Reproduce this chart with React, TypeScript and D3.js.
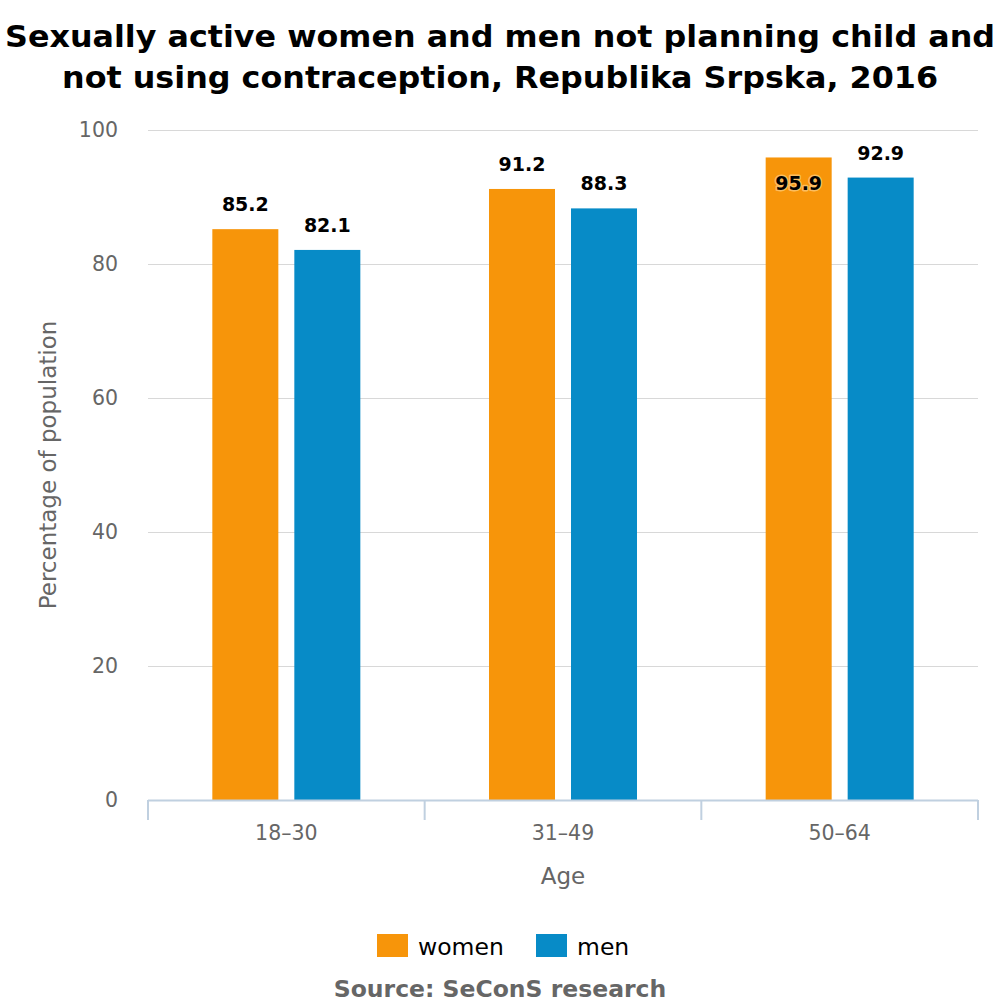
import { useEffect, useRef } from "react";
import * as d3 from "d3";

const ageGroups = ["18–30", "31–49", "50–64"];
const seriesNames = ["women", "men"];
const women = [85.2, 91.2, 95.9];
const men = [82.1, 88.3, 92.9];
const yTicks = [0, 20, 40, 60, 80, 100];
const colors = ["#f7950a", "#078bc7"];
const titleLines = [
  "Sexually active women and men not planning child and",
  "not using contraception, Republika Srpska, 2016",
];

const W = 1000,
  H = 1000,
  margin = { top: 130, right: 22, bottom: 200, left: 148 };

const font = "'DejaVu Sans', Verdana, sans-serif";

export default function App() {
  const ref = useRef<SVGSVGElement>(null);

  useEffect(() => {
    const svg = d3.select(ref.current);
    svg.selectAll("*").remove();

    const x0 = d3
      .scaleBand()
      .domain(ageGroups)
      .range([margin.left, W - margin.right]);
    const x1 = d3
      .scaleBand()
      .domain(seriesNames)
      .range([0, 148])
      .paddingInner(0.195);
    const y = d3
      .scaleLinear()
      .domain([0, 100])
      .range([H - margin.bottom, margin.top]);

    // title
    const titleWidths = [990, 876];
    svg
      .append("g")
      .selectAll("text")
      .data(titleLines)
      .enter()
      .append("text")
      .attr("x", W / 2)
      .attr("y", (_, i) => 47 + i * 41)
      .attr("text-anchor", "middle")
      .attr("font-family", font)
      .attr("font-weight", "bold")
      .attr("font-size", 31)
      .attr("textLength", (_, i) => titleWidths[i])
      .attr("lengthAdjust", "spacingAndGlyphs")
      .attr("fill", "#000")
      .text((d) => d);

    // grid
    svg
      .append("g")
      .selectAll("line")
      .data(yTicks.filter((d) => d > 0))
      .enter()
      .append("line")
      .attr("x1", margin.left)
      .attr("x2", W - margin.right)
      .attr("y1", (d) => y(d) + 0.5)
      .attr("y2", (d) => y(d) + 0.5)
      .attr("stroke", "#d8d8d8")
      .attr("stroke-width", 1);

    svg
      .append("g")
      .selectAll("text")
      .data(yTicks)
      .enter()
      .append("text")
      .attr("x", 118)
      .attr("y", (d) => y(d) + 7)
      .attr("text-anchor", "end")
      .attr("font-family", font)
      .attr("font-size", 20.5)
      .attr("fill", "#666")
      .text((d) => d);

    svg
      .append("text")
      .attr("transform", `translate(56,${(y(0) + y(100)) / 2}) rotate(-90)`)
      .attr("text-anchor", "middle")
      .attr("font-family", font)
      .attr("font-size", 23)
      .attr("fill", "#666")
      .text("Percentage of population");

    // bars
    const groups = svg
      .append("g")
      .selectAll("g")
      .data(ageGroups)
      .enter()
      .append("g")
      .attr("transform", (d) => `translate(${x0(d)! + (x0.bandwidth() - 148) / 2},0)`);

    const rows = (i: number) =>
      seriesNames.map((s, j) => ({ s, j, v: j === 0 ? women[i] : men[i] }));

    groups.each(function (_, i) {
      const g = d3.select(this);
      const data = rows(i);
      g.selectAll("rect")
        .data(data)
        .enter()
        .append("rect")
        .attr("x", (d) => x1(d.s)!)
        .attr("width", x1.bandwidth())
        .attr("y", (d) => y(d.v))
        .attr("height", (d) => y(0) - y(d.v))
        .attr("fill", (d) => colors[d.j]);

      const inside = (v: number) => y(v) - 40 < margin.top;
      g.selectAll("text")
        .data(data)
        .enter()
        .append("text")
        .attr("x", (d) => x1(d.s)! + x1.bandwidth() / 2)
        .attr("y", (d) => (inside(d.v) ? y(d.v) + 33 : y(d.v) - 18))
        .attr("text-anchor", "middle")
        .attr("font-family", font)
        .attr("font-weight", "bold")
        .attr("font-size", 19)
        .attr("fill", "#000")
        .attr("stroke", (d) => (inside(d.v) ? "rgba(255,225,170,0.55)" : "rgba(255,255,255,0.8)"))
        .attr("stroke-width", 3)
        .attr("paint-order", "stroke")
        .attr("stroke-linejoin", "round")
        .text((d) => d.v.toFixed(1));
    });

    // x axis
    const axisY = y(0);
    svg
      .append("line")
      .attr("x1", margin.left)
      .attr("x2", W - margin.right)
      .attr("y1", axisY + 0.5)
      .attr("y2", axisY + 0.5)
      .attr("stroke", "#c0d0e0")
      .attr("stroke-width", 2);

    const edges = [...ageGroups.map((d) => x0(d)!), W - margin.right];
    svg
      .append("g")
      .selectAll("line")
      .data(edges)
      .enter()
      .append("line")
      .attr("x1", (d) => d)
      .attr("x2", (d) => d)
      .attr("y1", axisY)
      .attr("y2", axisY + 20)
      .attr("stroke", "#c0d0e0")
      .attr("stroke-width", 2);

    svg
      .append("g")
      .selectAll("text")
      .data(ageGroups)
      .enter()
      .append("text")
      .attr("x", (d) => x0(d)! + x0.bandwidth() / 2)
      .attr("y", axisY + 40)
      .attr("text-anchor", "middle")
      .attr("font-family", font)
      .attr("font-size", 20.5)
      .attr("fill", "#666")
      .text((d) => d);

    svg
      .append("text")
      .attr("x", (margin.left + W - margin.right) / 2)
      .attr("y", axisY + 84)
      .attr("text-anchor", "middle")
      .attr("font-family", font)
      .attr("font-size", 23)
      .attr("fill", "#666")
      .text("Age");

    // legend
    const legendX = [377, 536];
    const legend = svg
      .append("g")
      .selectAll("g")
      .data(seriesNames)
      .enter()
      .append("g")
      .attr("transform", (_, i) => `translate(${legendX[i]},934)`);
    legend
      .append("rect")
      .attr("width", 31)
      .attr("height", 23)
      .attr("fill", (_, i) => colors[i]);
    legend
      .append("text")
      .attr("x", 41)
      .attr("y", 21)
      .attr("font-family", font)
      .attr("font-size", 23.5)
      .attr("fill", "#000")
      .text((d) => d);

    svg
      .append("text")
      .attr("x", W / 2)
      .attr("y", 997)
      .attr("text-anchor", "middle")
      .attr("font-family", font)
      .attr("font-weight", "bold")
      .attr("font-size", 23.5)
      .attr("fill", "#666")
      .text("Source: SeConS research");
  }, []);

  return (
    <svg
      ref={ref}
      width={W}
      height={H}
      style={{ position: "absolute", left: 0, top: 0, background: "#fff" }}
    />
  );
}
